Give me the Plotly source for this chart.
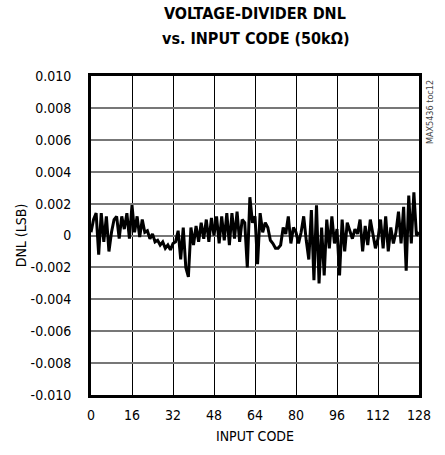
import plotly.graph_objects as go

codes = list(range(0, 129))
dnl = [
    0.0002, 0.0010, 0.0014, -0.0012, 0.0014, -0.0004, 0.0012, -0.0010, 0.0002, 0.0010,
    0.0012, -0.0002, 0.0012, 0.0004, 0.0014, -0.0002, 0.0019, 0.0002, 0.0012, -0.0001,
    0.0010, 0.0002, 0.0003, -0.0002, 0.0001, -0.0004, -0.0003, -0.0006, -0.0004, -0.0008,
    -0.0006, -0.0009, -0.0005, -0.0004, 0.0003, -0.0015, 0.0005, -0.0020, -0.0026, 0.0005,
    -0.0006, 0.0006, -0.0004, 0.0008, -0.0002, 0.0010, -0.0004, 0.0011, 0.0000, 0.0012,
    -0.0005, 0.0012, -0.0003, 0.0014, -0.0006, 0.0014, -0.0002, 0.0015, -0.0004, 0.0010,
    0.0008, -0.0020, 0.0024, 0.0008, 0.0012, -0.0018, 0.0014, 0.0002, 0.0008, 0.0005,
    -0.0003, -0.0005, -0.0008, -0.0008, -0.0006, 0.0005, 0.0001, 0.0012, -0.0005, 0.0005,
    0.0002, -0.0005, 0.0002, 0.0012, -0.0003, -0.0015, 0.0016, -0.0028, 0.0019, -0.0030,
    0.0005, -0.0025, 0.0010, -0.0008, 0.0012, -0.0005, 0.0004, -0.0025, 0.0010, -0.0010,
    0.0008, 0.0003, -0.0002, 0.0004, 0.0001, 0.0010, -0.0010, 0.0006, -0.0006, 0.0010,
    0.0002, -0.0008, -0.0002, 0.0010, -0.0008, 0.0012, -0.0010, 0.0005, -0.0005, 0.0002,
    0.0015, -0.0005, 0.0018, -0.0022, 0.0025, -0.0005, 0.0027, 0.0000, 0.0002,
]

x_ticks = [0, 16, 32, 48, 64, 80, 96, 112, 128]
y_ticks = [0.010, 0.008, 0.006, 0.004, 0.002, 0.0, -0.002, -0.004, -0.006, -0.008, -0.010]
y_tick_text = ["0.010", "0.008", "0.006", "0.004", "0.002", "0", "-0.002", "-0.004",
               "-0.006", "-0.008", "-0.010"]

font_main = "Liberation Sans Narrow, DejaVu Sans Condensed, Arial Narrow, sans-serif"

fig = go.Figure()
fig.add_trace(go.Scatter(x=codes, y=dnl, mode="lines",
                         line=dict(color="black", width=3), showlegend=False,
                         hoverinfo="skip"))

fig.update_layout(
    width=445, height=455,
    margin=dict(l=91, r=26, t=76, b=60),
    paper_bgcolor="white", plot_bgcolor="white",
    font=dict(family=font_main, size=14, color="black"),
    xaxis=dict(
        range=[0, 128], tickvals=x_ticks, ticktext=[str(v) for v in x_ticks],
        showgrid=True, gridcolor="black", gridwidth=1,
        showline=True, linecolor="black", linewidth=3, mirror=True,
        ticks="", zeroline=False, ticklabelstandoff=5,
        title=dict(text="INPUT CODE", standoff=10, font=dict(size=14)),
        tickfont=dict(size=14),
    ),
    yaxis=dict(
        range=[-0.010, 0.010], tickvals=y_ticks, ticktext=y_tick_text,
        showgrid=True, gridcolor="#777777", gridwidth=1.5,
        showline=True, linecolor="black", linewidth=3, mirror=True,
        ticks="", zeroline=False, ticklabelstandoff=14,
        title=dict(text="DNL (LSB)", standoff=1, font=dict(size=14)),
        tickfont=dict(size=14),
    ),
)

fig.add_annotation(
    text="<b>VOLTAGE-DIVIDER DNL</b>", xref="paper", yref="paper",
    x=0.5, y=1.0, yshift=63, xanchor="center", yanchor="middle",
    showarrow=False, font=dict(family=font_main, size=16, color="black"),
)
fig.add_annotation(
    text="<b>vs. INPUT CODE (50kΩ)</b>", xref="paper", yref="paper",
    x=0.5, y=1.0, yshift=38, xanchor="center", yanchor="middle",
    showarrow=False, font=dict(family=font_main, size=16, color="black"),
)
fig.add_annotation(
    text="MAX5436 toc12", xref="paper", yref="paper",
    x=1.0, y=1.0, xanchor="left", yanchor="top", xshift=4, yshift=-2,
    textangle=-90, showarrow=False,
    font=dict(family=font_main, size=9, color="#444444"),
)

fig.write_html("out.html", config={"displayModeBar": False},
               post_script="document.body.style.margin='0';")
